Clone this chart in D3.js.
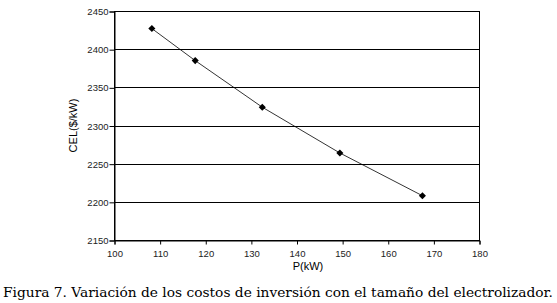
<!DOCTYPE html>
<html><head><meta charset="utf-8">
<script src="https://cdn.jsdelivr.net/npm/d3@7"></script>
<style>body{margin:0;background:#fff}svg{display:block}</style>
</head><body>
<script>
const powerKW = [108.3, 117.8, 132.5, 149.5, 167.6];
const celValues = [2427, 2385, 2324, 2264, 2208];
const xTicks = [100, 110, 120, 130, 140, 150, 160, 170, 180];
const yTicks = [2150, 2200, 2250, 2300, 2350, 2400, 2450];

const W = 557, H = 303;
const m = {left: 114, right: 78, top: 11, bottom: 63};
const svg = d3.select("body").append("svg").attr("width", W).attr("height", H);
const x = d3.scaleLinear().domain([100, 180]).range([m.left, W - m.right]);
const y = d3.scaleLinear().domain([2150, 2450]).range([H - m.bottom, m.top]);
const font = "Arial, 'Liberation Sans', sans-serif";

// gridlines
svg.append("g").selectAll("line").data(yTicks.slice(1)).join("line")
  .attr("x1", x(100)).attr("x2", x(180))
  .attr("y1", d => Math.round(y(d)) + 0.5).attr("y2", d => Math.round(y(d)) + 0.5)
  .attr("stroke", "#000").attr("stroke-width", 1);

// frame
svg.append("rect").attr("x", x(100) + 0.5).attr("y", Math.round(y(2450)) + 0.5)
  .attr("width", x(180) - x(100)).attr("height", y(2150) - y(2450))
  .attr("fill", "none").attr("stroke", "#000");

const xa = svg.append("g").attr("transform", `translate(0.5,${Math.round(y(2150)) + 0.5})`)
  .call(d3.axisBottom(x).tickValues(xTicks).tickSize(4).tickPadding(6).tickFormat(d3.format("d")));
const ya = svg.append("g").attr("transform", `translate(${Math.round(x(100)) + 0.5},0.5)`)
  .call(d3.axisLeft(y).tickValues(yTicks).tickSize(5).tickPadding(1).tickFormat(d3.format("d")));
[xa, ya].forEach(a => {
  a.select(".domain").attr("stroke", "#000");
  a.selectAll(".tick line").attr("stroke", "#000");
  a.selectAll("text").attr("font-family", font).attr("font-size", 9.5).attr("fill", "#222");
});

// line
const line = d3.line().x((d, i) => x(powerKW[i])).y(d => y(d));
svg.append("path").datum(celValues).attr("d", line)
  .attr("fill", "none").attr("stroke", "#000").attr("stroke-width", 0.8);
svg.append("g").selectAll("path").data(celValues).join("path")
  .attr("transform", (d, i) => `translate(${x(powerKW[i])},${y(d)})`)
  .attr("d", d3.symbol(d3.symbolDiamond2, 32)).attr("fill", "#000");

// axis titles
svg.append("text").attr("x", 308).attr("y", 270).attr("text-anchor", "middle")
  .attr("font-family", font).attr("font-size", 11).text("P(kW)");
svg.append("text").attr("transform", `translate(77,${(y(2150) + y(2450)) / 2}) rotate(-90)`)
  .attr("text-anchor", "middle").attr("font-family", font).attr("font-size", 11).text("CEL($/kW)");

// caption
svg.append("text").attr("x", 3).attr("y", 297)
  .attr("font-family", "'DejaVu Serif', 'Liberation Serif', serif").attr("font-size", 13)
  .attr("textLength", 550).attr("lengthAdjust", "spacingAndGlyphs")
  .text("Figura 7. Variación de los costos de inversión con el tamaño del electrolizador.");
</script>
</body></html>
